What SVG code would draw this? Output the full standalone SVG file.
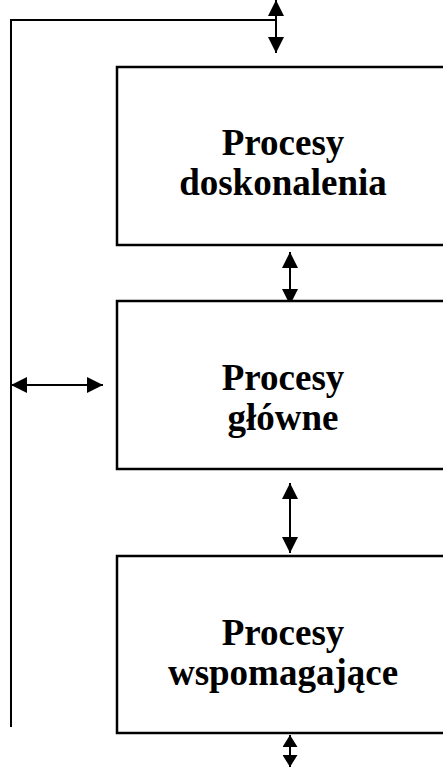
<svg xmlns="http://www.w3.org/2000/svg" width="443" height="767" viewBox="0 0 443 767">
<defs>
<style>
.box{fill:#fff;stroke:#000;stroke-width:2.5}
.lbl{font-family:"Liberation Serif","Times New Roman",serif;font-weight:bold;font-size:37px;text-anchor:middle;fill:#000}
.conn{fill:none;stroke:#000;stroke-width:2}
</style>
<marker id="ah" viewBox="0 0 16 16" refX="16" refY="8" markerWidth="16" markerHeight="16" markerUnits="userSpaceOnUse" orient="auto-start-reverse">
<path d="M0,0 L16,8 L0,16 Z" fill="#000"/>
</marker>
<marker id="ahs" viewBox="0 0 12 15" refX="12" refY="7.5" markerWidth="12" markerHeight="15" markerUnits="userSpaceOnUse" orient="auto-start-reverse">
<path d="M0,0 L12,7.5 L0,15 Z" fill="#000"/>
</marker>
</defs>
<rect width="443" height="767" fill="#fff"/>
<g id="connectors">
<polyline class="conn" points="276,20 11,20 11,727"/>
<line class="conn" x1="276" y1="0" x2="276" y2="53" marker-start="url(#ah)" marker-end="url(#ah)"/>
<line class="conn" x1="290" y1="252" x2="290" y2="305" marker-start="url(#ah)" marker-end="url(#ah)"/>
<line class="conn" x1="290" y1="483" x2="290" y2="553" marker-start="url(#ah)" marker-end="url(#ah)"/>
<line class="conn" x1="290" y1="735" x2="290" y2="767" marker-start="url(#ahs)" marker-end="url(#ahs)"/>
<line class="conn" x1="11" y1="385" x2="103" y2="385" marker-start="url(#ah)" marker-end="url(#ah)"/>
</g>
<g id="node-doskonalenia">
<rect class="box" x="117" y="67" width="340" height="178"/>
<text class="lbl" x="283" y="155">Procesy</text>
<text class="lbl" x="283" y="195">doskonalenia</text>
</g>
<g id="node-glowne">
<rect class="box" x="117" y="301" width="340" height="168"/>
<text class="lbl" x="283" y="390">Procesy</text>
<text class="lbl" x="283" y="430">główne</text>
</g>
<g id="node-wspomagajace">
<rect class="box" x="117" y="556" width="340" height="177"/>
<text class="lbl" x="283" y="645">Procesy</text>
<text class="lbl" x="283" y="685">wspomagające</text>
</g>
</svg>
